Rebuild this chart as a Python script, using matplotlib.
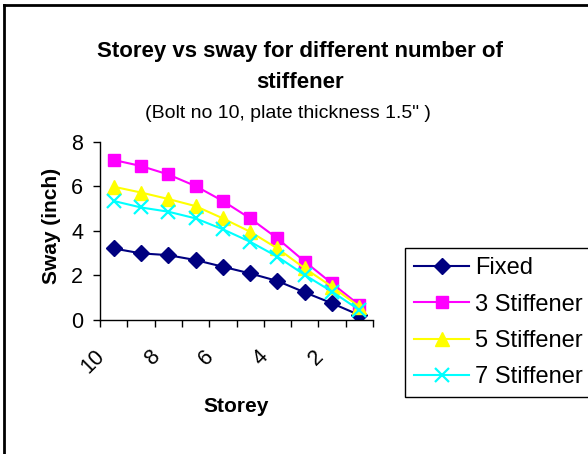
import matplotlib.pyplot as plt
import matplotlib.transforms as mtransforms
from matplotlib.lines import Line2D
import numpy as np

# ---------- Data ----------------------------------------------
storeys = ['10', '9', '8', '7', '6', '5', '4', '3', '2', '1']
fixed = [3.21, 2.99, 2.91, 2.69, 2.39, 2.09, 1.75, 1.24, 0.75, 0.22]
stiff3 = [7.18, 6.91, 6.53, 6.01, 5.34, 4.56, 3.66, 2.62, 1.64, 0.67]
stiff5 = [5.98, 5.72, 5.43, 5.11, 4.56, 3.96, 3.21, 2.32, 1.49, 0.60]
stiff7 = [5.34, 5.05, 4.86, 4.56, 4.07, 3.51, 2.84, 2.02, 1.27, 0.45]
labels = ['Fixed', '3 Stiffener', '5 Stiffener', '7 Stiffener']

plt.rcParams['font.family'] = ['Liberation Sans', 'DejaVu Sans']

W, H = 588, 454
fig = plt.figure(figsize=(W / 100, H / 100), dpi=100)
ax = fig.add_axes([100 / W, 1 - 320 / H, 273 / W, 178.3 / H])

x = np.arange(len(storeys))
ax.plot(x, fixed, color='#000080', marker='D', markersize=8, lw=1.5, label=labels[0])
ax.plot(x, stiff3, color='#FF00FF', marker='s', markersize=9, lw=1.5, label=labels[1])
ax.plot(x, stiff5, color='#FFFF00', marker='^', markersize=10, lw=1.5, label=labels[2])
ax.plot(x, stiff7, color='#00FFFF', marker='x', markersize=10, mew=1.6, lw=1.5, label=labels[3])

ax.set_xlim(-0.5, len(storeys) - 0.5)
ax.set_ylim(0, 8)
ax.set_yticks([0, 2, 4, 6, 8])
ax.set_xticks(np.arange(-0.5, len(storeys)))
ax.set_xticklabels([])
ax.set_xticks(x[::2], minor=True)
ax.set_xticklabels(storeys[::2], minor=True, rotation=45, ha='right', va='center',
                   rotation_mode='anchor')
ax.tick_params(axis='x', which='minor', length=0, pad=24, labelsize=15.5)
ax.tick_params(axis='x', which='major', length=5, width=1, direction='out')
ax.tick_params(axis='y', length=5, width=1, direction='out', labelsize=15.5, pad=7)

# shift rotated labels left like excel does
shift = mtransforms.ScaledTranslation(-12 / 100, 0, fig.dpi_scale_trans)
for lbl in ax.get_xticklabels(minor=True):
    lbl.set_transform(lbl.get_transform() + shift)

for s in ['top', 'right']:
    ax.spines[s].set_visible(False)
for s in ['left', 'bottom']:
    ax.spines[s].set_linewidth(1)

ax.set_ylabel('Sway (inch)', fontsize=15, fontweight='bold')
ax.yaxis.set_label_coords(-0.143, 0.53)
ax.set_xlabel('Storey', fontsize=15, fontweight='bold')
ax.xaxis.set_label_coords(0.5, -0.43)

fig.text(300 / W, 1 - 52 / H, 'Storey vs sway for different number of',
         ha='center', va='center', fontsize=16, fontweight='bold')
fig.text(300 / W, 1 - 82 / H, 'stiffener',
         ha='center', va='center', fontsize=16, fontweight='bold')
fig.text(288 / W, 1 - 113 / H, '(Bolt no 10, plate thickness 1.5" )',
         ha='center', va='center', fontsize=14)

fig.legend(loc='upper left', bbox_to_anchor=(405 / W, 1 - 248 / H),
           frameon=True, fancybox=False, edgecolor='black', framealpha=1,
           fontsize=17, handlelength=2.3, handletextpad=0.25,
           labelspacing=0.6, borderpad=0.4, borderaxespad=0)

# chart border (only left and top visible in the crop)
fig.add_artist(Line2D([4 / W, 4 / W], [0, 1 - 5 / H], transform=fig.transFigure,
                      color='black', lw=2))
fig.add_artist(Line2D([4 / W, 1], [1 - 5 / H, 1 - 5 / H], transform=fig.transFigure,
                      color='black', lw=2))

fig.savefig('out.png', dpi=100)
